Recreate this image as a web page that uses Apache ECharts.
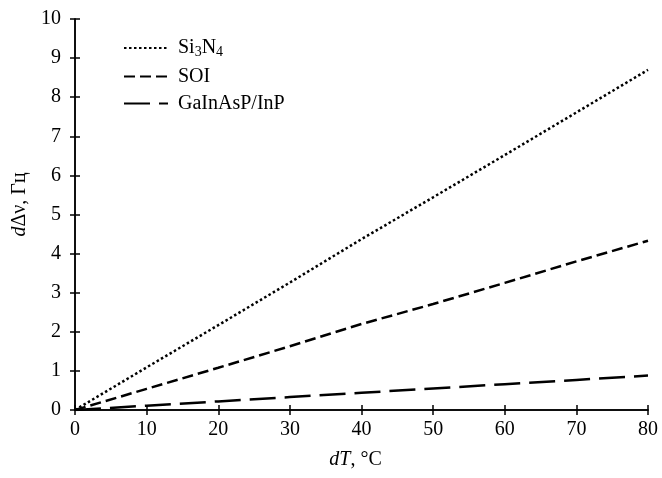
<!DOCTYPE html>
<html>
<head>
<meta charset="utf-8">
<script src="https://cdn.jsdelivr.net/npm/echarts@6/dist/echarts.min.js"></script>
<style>
  html, body { margin: 0; padding: 0; background: #fff; }
  #chart { width: 662px; height: 478px; }
</style>
</head>
<body>
<div id="chart"></div>
<script>
// dT, deg C
const temps = [0, 10, 20, 30, 40, 50, 60, 70, 80];
// d delta nu, GHz
const si3n4 = [0, 1.09, 2.17, 3.26, 4.37, 5.44, 6.52, 7.61, 8.7];
const soi = [0, 0.54, 1.08, 1.63, 2.2, 2.71, 3.25, 3.8, 4.33];
const gainasp = [0, 0.11, 0.22, 0.33, 0.44, 0.55, 0.66, 0.77, 0.88];

const font = "Liberation Serif";

function pairs(values) {
    let out = [];
    for (let i = 0; i < temps.length; i++) {
        out.push([temps[i], values[i]]);
    }
    return out;
}

const chart = echarts.init(document.getElementById("chart"));

const axisLine = { show: true, lineStyle: { color: "#000", width: 1.5 } };
const tickStyle = { color: "#000", width: 1.5 };

chart.setOption({
    animation: false,
    grid: { left: 75, right: 14, top: 19, bottom: 68 },
    legend: {
        left: 118,
        top: 33,
        orient: "vertical",
        itemWidth: 44,
        itemHeight: 20,
        itemGap: 7,
        itemStyle: { color: "transparent", borderColor: "transparent", borderWidth: 0, opacity: 0 },
        textStyle: {
            fontFamily: font, fontSize: 20, color: "#000", padding: [0, 0, 0, 5],
            rich: {
                n: { fontFamily: font, fontSize: 20, color: "#000" },
                s: { fontFamily: font, fontSize: 14, color: "#000", verticalAlign: "bottom", padding: [9, 0, 0, 0] }
            }
        },
        formatter: function (name) {
            if (name === "Si3N4") return "{n|Si}{s|3}{n|N}{s|4}";
            return "{n|" + name + "}";
        },
        data: ["Si3N4", "SOI", "GaInAsP/InP"]
    },
    xAxis: [
        {
            type: "value", min: 0, max: 80, interval: 10,
            axisLine: axisLine, splitLine: { show: false },
            axisTick: { show: true, length: 5, lineStyle: tickStyle },
            axisLabel: { fontFamily: font, fontSize: 20, color: "#000", margin: 10 },
            name: "{i|dT}{n|, °C}",
            nameLocation: "middle",
            nameGap: 40,
            nameTextStyle: {
                padding: [0, 12, 0, 0],
                rich: {
                    i: { fontFamily: font, fontSize: 20, fontStyle: "italic", color: "#000" },
                    n: { fontFamily: font, fontSize: 20, color: "#000" }
                }
            }
        },
        {
            type: "value", min: 0, max: 80, interval: 10, position: "bottom",
            axisLine: axisLine, splitLine: { show: false },
            axisTick: { show: true, inside: true, length: 5, lineStyle: tickStyle },
            axisLabel: { show: false }
        }
    ],
    yAxis: [
        {
            type: "value", min: 0, max: 10, interval: 1,
            axisLine: axisLine, splitLine: { show: false },
            axisTick: { show: true, length: 5, lineStyle: tickStyle },
            axisLabel: { fontFamily: font, fontSize: 20, color: "#000", margin: 14 },
            name: "{i|d}{n|Δν, Гц}",
            nameLocation: "middle",
            nameGap: 36,
            nameTextStyle: {
                padding: [0, 0, 0, 20],
                rich: {
                    i: { fontFamily: font, fontSize: 20, fontStyle: "italic", color: "#000" },
                    n: { fontFamily: font, fontSize: 20, color: "#000" }
                }
            }
        },
        {
            type: "value", min: 0, max: 10, interval: 1, position: "left",
            axisLine: axisLine, splitLine: { show: false },
            axisTick: { show: true, inside: true, length: 5, lineStyle: tickStyle },
            axisLabel: { show: false }
        }
    ],
    series: [
        {
            name: "Si3N4", type: "line", data: pairs(si3n4), symbol: "none",
            lineStyle: { color: "#000", width: 2.5, type: [2.5, 2.5] },
            itemStyle: { color: "#000" }
        },
        {
            name: "SOI", type: "line", data: pairs(soi), symbol: "none",
            lineStyle: { color: "#000", width: 2.5, type: [11, 5] },
            itemStyle: { color: "#000" }
        },
        {
            name: "GaInAsP/InP", type: "line", data: pairs(gainasp), symbol: "none",
            lineStyle: { color: "#000", width: 2.5, type: [26, 9] },
            itemStyle: { color: "#000" }
        }
    ]
});
</script>
</body>
</html>
